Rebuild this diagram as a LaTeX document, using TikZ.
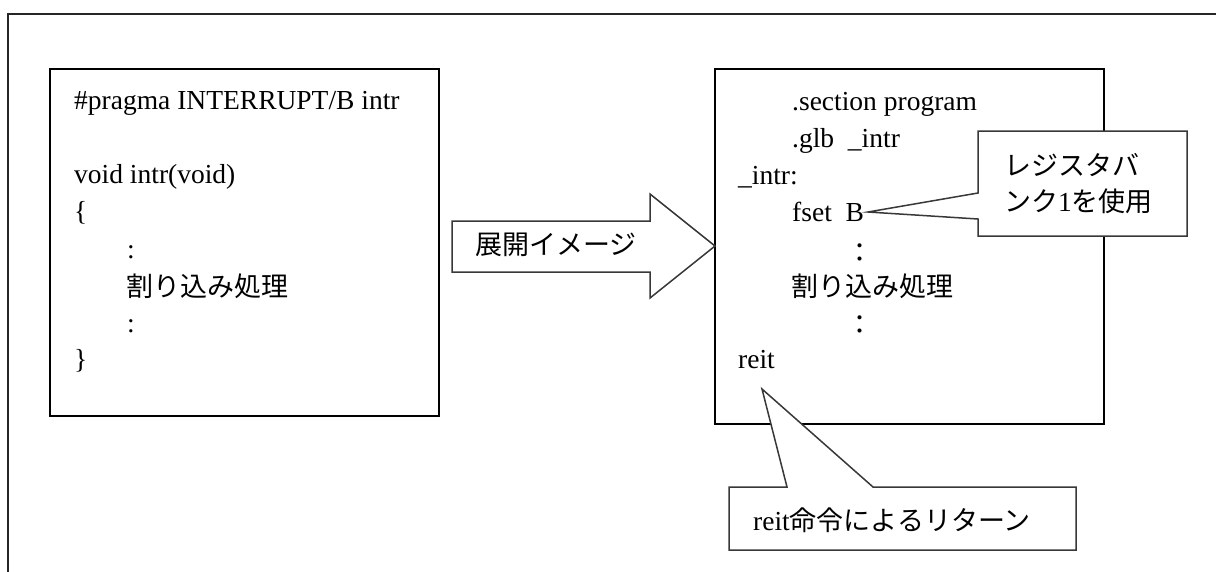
\documentclass[tikz,border=0pt]{standalone}
\usepackage{fontspec}
\setmainfont{Liberation Serif}
\newfontfamily\cjk{Noto Sans CJK JP}
\begin{document}
\begin{tikzpicture}[x=1pt,y=-1pt,
  lat/.style={inner sep=0pt,anchor=base west,font=\fontsize{27.5}{33}\selectfont},
  jp/.style={inner sep=0pt,anchor=west,font=\fontsize{27}{33}\selectfont\cjk},
  mix/.style={inner sep=0pt,anchor=west,font=\fontsize{27.5}{33}\selectfont},
  codebox/.style={draw=black,line width=2pt},
  callout/.style={draw=black!78,line width=1.5pt,fill=white,line join=miter}]
\useasboundingbox (0,0) rectangle (1216,571);
% outer frame (only top and left visible)
\coordinate (fbl) at (8,580);
\coordinate (ftl) at (8,14);
\coordinate (ftr) at (1225,14);
\draw[line width=2.2pt,black!85] (fbl) -- (ftl) -- (ftr);
% left box
\draw[codebox] (50,69) rectangle (439,416);
\node[lat] (l1) at (74,109) {\#pragma INTERRUPT/B intr};
\node[lat] (l2) at (74,183) {void intr(void)};
\node[lat] (l3) at (74,220) {\{};
\node[lat] (l4) at (127,258) {:};
\node[jp]  (l5) at (126,286) {割り込み処理};
\node[lat] (l6) at (127,332) {:};
\node[lat] (l7) at (74,368) {\}};
% right box
\draw[codebox] (715,69) rectangle (1104,424);
\node[lat] (r1) at (792,110) {.section program};
\node[lat] (r2) at (792,147) {.glb \ \_intr};
\node[lat] (r3) at (738,184) {\_intr:};
\node[lat] (r4) at (792,221) {fset \ B};
\node[inner sep=0pt,font=\fontsize{27}{33}\selectfont\cjk] (r5) at (860,253) {：};
\node[jp]  (r6) at (791,286) {割り込み処理};
\node[inner sep=0pt,font=\fontsize{27}{33}\selectfont\cjk] (r7) at (860,325) {：};
\node[lat] (r8) at (738,368) {reit};
% expand arrow
\draw[draw=black!78,line width=1.5pt,fill=white]
  (452,221) -- (650,221) -- (650,194) -- (715,246) -- (650,298) -- (650,272) -- (452,272) -- cycle;
\node[jp] (arr) at (475,245) {展開イメージ};
% callout 1
\coordinate (c1tip) at (868,212);
\draw[callout] (978,131) -- (1187,131) -- (1187,236) -- (978,236) -- (978,219) -- (c1tip) -- (978,193) -- cycle;
\node[jp] (c1a) at (1004,165) {レジスタバ};
\node[mix] (c1b) at (1004,201) {{\fontsize{27}{33}\selectfont\cjk ンク}1{\fontsize{27}{33}\selectfont\cjk を使用}};
% callout 2
\coordinate (c2tip) at (762,389);
\draw[callout] (729,487) -- (787,487) -- (c2tip) -- (873,487) -- (1076,487) -- (1076,550) -- (729,550) -- cycle;
\node[mix] (c2) at (753,520) {reit{\fontsize{27}{33}\selectfont\cjk 命令によるリターン}};
\end{tikzpicture}
\end{document}
